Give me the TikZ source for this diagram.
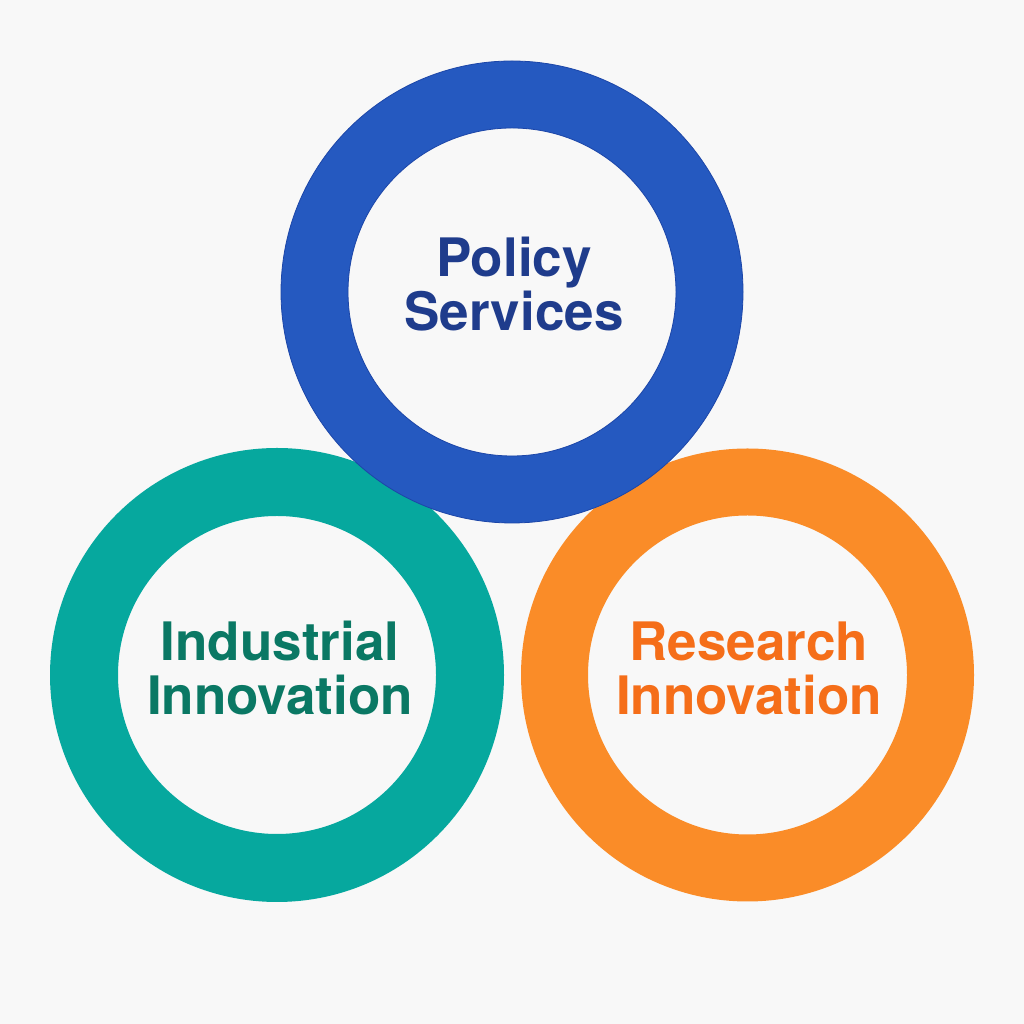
\documentclass[tikz,border=0pt]{standalone}
\usepackage{fontspec}
\setmainfont{TeX Gyre Heros}
\definecolor{bgc}{RGB}{248,248,248}
\definecolor{polring}{RGB}{37,89,192}
\definecolor{poledge}{RGB}{28,70,168}
\definecolor{poltext}{RGB}{31,60,140}
\definecolor{indring}{RGB}{6,168,158}
\definecolor{indtext}{RGB}{10,120,100}
\definecolor{resring}{RGB}{250,140,40}
\definecolor{restext}{RGB}{245,110,25}
\tikzset{label/.style={inner sep=0pt,align=center,font=\bfseries\fontsize{53}{54}\selectfont}}
\begin{document}
\begin{tikzpicture}[x=1pt,y=1pt]
				\fill[bgc] (0,0)rectangle(1024,1024);
				\useasboundingbox (0,0)rectangle(1024,1024);
				\coordinate(P) at (512,732);
				\coordinate(I) at (277,349);
				\coordinate(R) at (747.5,349);
				\fill[indring,even odd rule] (I)circle(227pt)(I)circle(159pt);
				\fill[resring,even odd rule] (R)circle(226.5pt)(R)circle(159.5pt);
				\filldraw[polring,draw=poledge,line width=0.8pt,even odd rule] (P)circle(231pt)(P)circle(164pt);
				\node[label,text=poltext] (pol) at (514,739.5) {Policy\\Services};
				\node[label,text=indtext] (ind) at (280,355.5) {Industrial\\Innovation};
				\node[label,text=restext] (res) at (749,355.5) {Research\\Innovation};
			\end{tikzpicture}
\end{document}
